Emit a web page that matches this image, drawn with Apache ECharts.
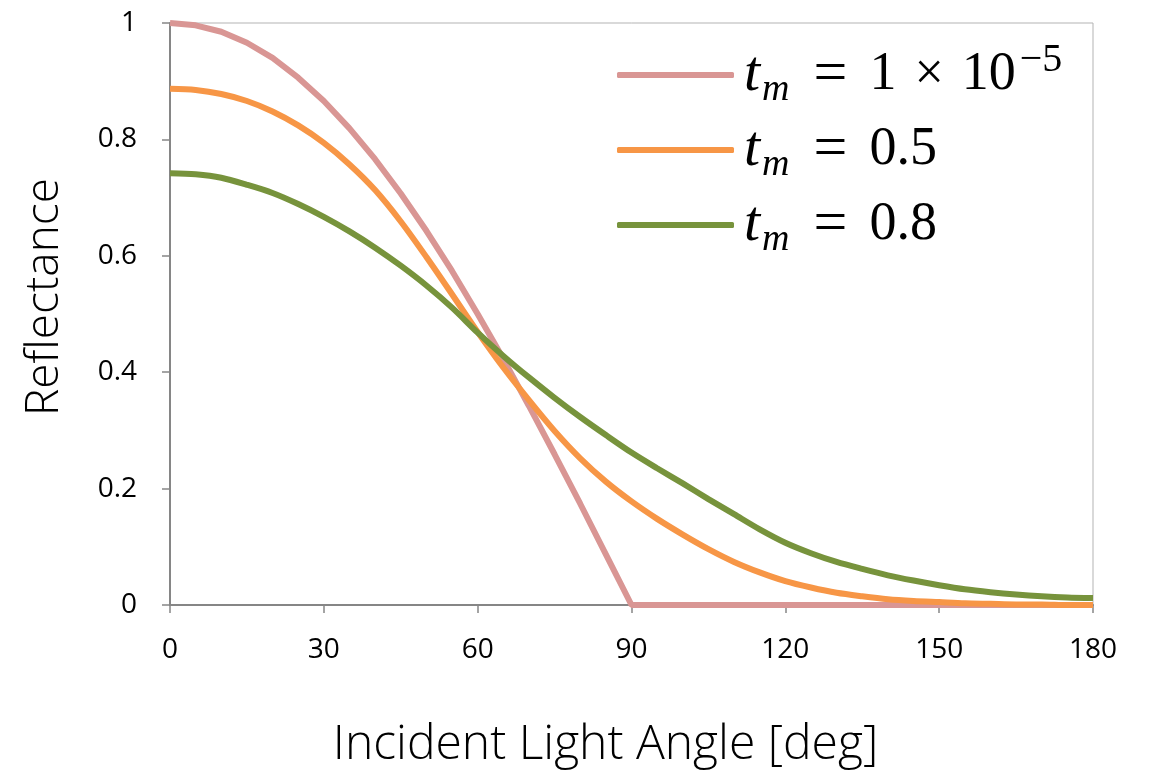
<!DOCTYPE html>
<html lang="en" style="height: 100%">
<head>
    <meta charset="utf-8"/>
</head>
<body style="height: 100%; margin: 0; overflow: hidden; background: #fff">
<div id="container" style="width: 1151px; height: 774px"></div>

<script type="text/javascript" src="https://cdn.jsdelivr.net/npm/echarts@6/dist/echarts.min.js"></script>

<script type="text/javascript">
    // incident angle in degrees, 5 deg steps
    var angles = [0, 5, 10, 15, 20, 25, 30, 35, 40, 45, 50, 55, 60, 65, 70, 75, 80, 85, 90,
        95, 100, 105, 110, 115, 120, 125, 130, 135, 140, 145, 150, 155, 160, 165, 170, 175, 180];
    // reflectance
    var tmTiny = [1.000, 0.996, 0.985, 0.966, 0.940, 0.906, 0.866, 0.819, 0.766, 0.707, 0.643, 0.574, 0.500,
        0.423, 0.342, 0.259, 0.174, 0.087, 0.000,
        0, 0, 0, 0, 0, 0, 0, 0, 0, 0, 0, 0, 0, 0, 0, 0, 0, 0];
    var tmHalf = [0.887, 0.885, 0.878, 0.866, 0.848, 0.824, 0.794, 0.757, 0.713, 0.659, 0.598, 0.534, 0.469,
        0.408, 0.352, 0.299, 0.252, 0.212, 0.178, 0.148, 0.121, 0.096, 0.074, 0.056, 0.041, 0.030, 0.021,
        0.015, 0.010, 0.007, 0.005, 0.003, 0.002, 0.001, 0.001, 0.000, 0.000];
    var tmEight = [0.742, 0.740, 0.734, 0.722, 0.708, 0.689, 0.667, 0.642, 0.614, 0.583, 0.549, 0.511, 0.468,
        0.428, 0.391, 0.356, 0.323, 0.292, 0.262, 0.235, 0.209, 0.182, 0.156, 0.130, 0.107, 0.089, 0.074,
        0.062, 0.051, 0.042, 0.034, 0.027, 0.022, 0.018, 0.015, 0.013, 0.012];
    var seriesNames = ["tm=1e-5", "tm=0.5", "tm=0.8"];
    var legendLabels = ["{r|1}{x|×}{r|10}{s|−5}", "{r|0.5}", "{r|0.8}"];
    var colors = ["#D99694", "#F79646", "#77933C"];

    var dom = document.getElementById("container");
    var myChart = echarts.init(dom, null, {renderer: "canvas"});

    function pairs(ys) {
        return angles.map(function (a, i) { return [a, ys[i]]; });
    }

    function makeSeries(name, ys, color, smooth) {
        return {
            name: name,
            type: "line",
            data: pairs(ys),
            symbol: "none",
            smooth: smooth,
            color: color,
            lineStyle: {width: 6, color: color},
        };
    }

    var serif = "Liberation Serif";

    var option = {
        animation: false,
        color: colors,
        grid: {
            left: 170,
            right: 58,
            top: 23,
            bottom: 169,
            show: true,
            borderColor: "#b3b3b3",
            borderWidth: 1,
        },
        legend: {
            orient: "vertical",
            left: 612,
            top: 35,
            icon: "roundRect",
            itemWidth: 117,
            itemHeight: 6,
            itemGap: 11,
            data: seriesNames,
            formatter: function (name) {
                return "{t|t}{m|m}{e|=}" + legendLabels[seriesNames.indexOf(name)];
            },
            textStyle: {
                color: "#000",
                padding: [0, 0, 0, 5],
                rich: {
                    t: {fontFamily: serif, fontStyle: "italic", fontSize: 58, color: "#000"},
                    m: {fontFamily: serif, fontStyle: "italic", fontSize: 38, color: "#000", padding: [30, 0, 0, 2]},
                    e: {fontFamily: serif, fontSize: 60, color: "#000", padding: [0, 22, 0, 24]},
                    r: {fontFamily: serif, fontSize: 54, color: "#000"},
                    x: {fontFamily: serif, fontSize: 52, color: "#000", padding: [0, 18, 0, 18]},
                    s: {fontFamily: serif, fontSize: 40, color: "#000", padding: [0, 0, 30, 4]},
                },
            },
        },
        xAxis: {
            type: "value",
            min: 0,
            max: 180,
            interval: 30,
            name: "Incident Light Angle [deg]",
            nameLocation: "middle",
            nameGap: 116,
            nameTextStyle: {fontFamily: "Open Sans", fontWeight: 300, fontSize: 48, color: "#000", padding: [0, 52, 0, 0]},
            axisLine: {show: true, lineStyle: {color: "#868686", width: 2}},
            axisTick: {show: true, length: 8, lineStyle: {color: "#868686", width: 1.5}},
            axisLabel: {fontFamily: "Open Sans", fontSize: 28, color: "#000", margin: 31},
            splitLine: {show: false},
        },
        yAxis: {
            type: "value",
            min: 0,
            max: 1,
            interval: 0.2,
            name: "Reflectance",
            nameLocation: "middle",
            nameGap: 102,
            nameTextStyle: {fontFamily: "Open Sans", fontWeight: 300, fontSize: 46, color: "#000", padding: [0, 0, 0, 34]},
            axisLine: {show: true, lineStyle: {color: "#868686", width: 2}},
            axisTick: {show: true, length: 8, lineStyle: {color: "#868686", width: 1.5}},
            axisLabel: {fontFamily: "Open Sans", fontSize: 28, color: "#000", margin: 33},
            splitLine: {show: false},
        },
        series: [
            makeSeries(seriesNames[0], tmTiny, colors[0], false),
            makeSeries(seriesNames[1], tmHalf, colors[1], 0.3),
            makeSeries(seriesNames[2], tmEight, colors[2], 0.3),
        ],
    };

    myChart.setOption(option);
</script>
</body>
</html>
